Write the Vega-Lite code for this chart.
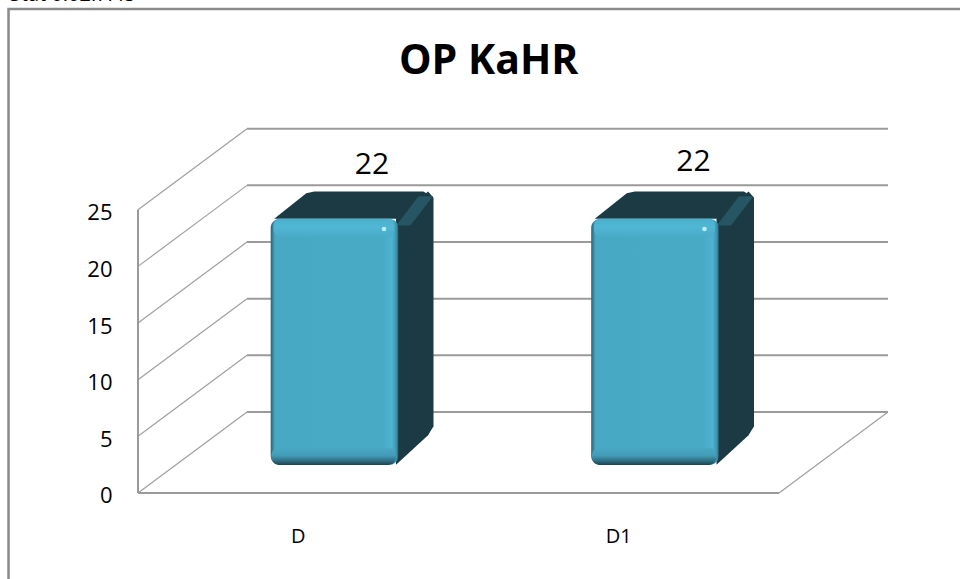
{
"$schema":"https://vega.github.io/schema/vega-lite/v6.json",
"width":960,"height":579,"autosize":"none","padding":0,"background":"#ffffff",
"datasets":{
"diag":[
{"s":"f0","x":0,"y":0},{"s":"f0","x":0.34,"y":7.15},
{"s":"f5","x":0,"y":5},{"s":"f5","x":0.34,"y":12.15},
{"s":"f10","x":0,"y":10},{"s":"f10","x":0.34,"y":17.15},
{"s":"f15","x":0,"y":15},{"s":"f15","x":0.34,"y":22.15},
{"s":"f20","x":0,"y":20},{"s":"f20","x":0.34,"y":27.15},
{"s":"f25","x":0,"y":25},{"s":"f25","x":0.34,"y":32.15},
{"s":"floorR","x":2,"y":0},{"s":"floorR","x":2.34,"y":7.15}
],
"horiz":[
{"s":"b0","x":0.34,"y":7.15},{"s":"b0","x":2.34,"y":7.15},
{"s":"b5","x":0.34,"y":12.15},{"s":"b5","x":2.34,"y":12.15},
{"s":"b10","x":0.34,"y":17.15},{"s":"b10","x":2.34,"y":17.15},
{"s":"b15","x":0.34,"y":22.15},{"s":"b15","x":2.34,"y":22.15},
{"s":"b20","x":0.34,"y":27.15},{"s":"b20","x":2.34,"y":27.15},
{"s":"b25","x":0.34,"y":32.15},{"s":"b25","x":2.34,"y":32.15},
{"s":"floor","x":0,"y":0},{"s":"floor","x":2,"y":0},
{"s":"axis","x":0,"y":0},{"s":"axis","x":0,"y":25}
],
"frame":[
{"s":"a","x":-0.404,"y":-7.6},{"s":"a","x":-0.404,"y":42.72},{"s":"a","x":2.57,"y":42.72}
],
"tops":[
{"c":"D","y":24.2,"x":0.425,"x2":0.82},{"c":"D","y":26.45,"x":0.525,"x2":0.9},{"c":"D","y":26.6,"x":0.55,"x2":0.89},
{"c":"D1","y":24.2,"x":1.425,"x2":1.82},{"c":"D1","y":26.45,"x":1.525,"x2":1.9},{"c":"D1","y":26.6,"x":1.55,"x2":1.89}
],
"sides":[
{"c":"D","x":0.805,"y":2.5,"y2":24.2},{"c":"D","x":0.905,"y":5.1,"y2":26.6},{"c":"D","x":0.922,"y":5.9,"y2":26.05},
{"c":"D1","x":1.805,"y":2.5,"y2":24.2},{"c":"D1","x":1.905,"y":5.1,"y2":26.6},{"c":"D1","x":1.922,"y":5.9,"y2":26.05}
],
"stripes":[
{"c":"D","y":23.6,"x":0.806,"x2":0.85},{"c":"D","y":26.2,"x":0.875,"x2":0.92},
{"c":"D1","y":23.6,"x":1.806,"x2":1.85},{"c":"D1","y":26.2,"x":1.875,"x2":1.92}
],
"faces":[
{"c":"D","x":0.414,"x2":0.812,"y":2.47,"y2":24.2},
{"c":"D1","x":1.414,"x2":1.812,"y":2.47,"y2":24.2}
],
"lower":[
{"c":"D","x":0.416,"x2":0.805,"y":2.47,"y2":4.0},
{"c":"D1","x":1.416,"x2":1.805,"y":2.47,"y2":4.0}
],
"upper":[
{"c":"D","x":0.423,"x2":0.8,"y":22.6,"y2":24.15},
{"c":"D1","x":1.423,"x2":1.8,"y":22.6,"y2":24.15}
],
"spots":[{"x":0.7675,"y":23.3},{"x":1.7675,"y":23.3}],
"bars":[{"category":"D","pos":0.5,"value":22,"labelY":27.6,"labelX":0.73,"catY":-3.88},
{"category":"D1","pos":1.5,"value":22,"labelY":27.85,"labelX":1.733,"catY":-3.88}],
"title":[{"t":"OP KaHR","x":1.094,"y":38.03}],
"stamp":[{"t":"Stat 0:02:7.45","x":-0.4,"y":43.95}]
},
"layer":[
{"data":{"name":"frame"},"mark":{"type":"line","color":"#8a8a8a","strokeWidth":2.5},
 "encoding":{"x":{"field":"x","type":"quantitative","scale":{"domain":[-0.4306,2.5647],"nice":false,"zero":false},"axis":null},
 "y":{"field":"y","type":"quantitative","scale":{"domain":[-7.59,43.51],"nice":false,"zero":false},
 "axis":{"values":[0,5,10,15,20,25],"offset":-138,"domain":false,"ticks":false,"grid":false,"title":null,"labelPadding":26,"labelOffset":3,"labelFont":"Open Sans","labelFontSize":22,"labelColor":"#000000","labelFontWeight":"normal"}},"detail":{"field":"s"},"order":{"field":"y","sort":"ascending"}}},
{"data":{"name":"diag"},"mark":{"type":"line","color":"#a0a0a0","strokeWidth":1.2},
 "encoding":{"x":{"field":"x","type":"quantitative"},"y":{"field":"y","type":"quantitative"},"detail":{"field":"s"}}},
{"data":{"name":"horiz"},"mark":{"type":"line","color":"#9a9a9a","strokeWidth":2},
 "encoding":{"x":{"field":"x","type":"quantitative"},"y":{"field":"y","type":"quantitative"},"detail":{"field":"s"}}},
{"data":{"name":"tops"},"mark":{"type":"area","orient":"horizontal","color":"#1b3a44"},
 "encoding":{"y":{"field":"y","type":"quantitative"},"x":{"field":"x","type":"quantitative"},"x2":{"field":"x2"},"detail":{"field":"c"}}},
{"data":{"name":"sides"},"mark":{"type":"area","orient":"vertical","color":"#1b3a44"},
 "encoding":{"x":{"field":"x","type":"quantitative"},"y":{"field":"y","type":"quantitative"},"y2":{"field":"y2"},"detail":{"field":"c"}}},
{"data":{"name":"stripes"},"mark":{"type":"area","orient":"horizontal","color":"#265664"},
 "encoding":{"y":{"field":"y","type":"quantitative"},"x":{"field":"x","type":"quantitative"},"x2":{"field":"x2"},"detail":{"field":"c"}}},
{"data":{"name":"faces"},"mark":{"type":"rect","cornerRadius":9,"color":{"gradient":"linear","x1":0,"y1":0,"x2":1,"y2":0,"stops":[{"offset":0,"color":"#2c6275"},{"offset":0.035,"color":"#48a9c5"},{"offset":0.88,"color":"#49aac6"},{"offset":0.95,"color":"#4eb4d1"},{"offset":0.985,"color":"#3f93ad"},{"offset":1,"color":"#2c6275"}]}},
 "encoding":{"x":{"field":"x","type":"quantitative"},"x2":{"field":"x2"},"y":{"field":"y","type":"quantitative"},"y2":{"field":"y2"}}},
{"data":{"name":"lower"},"mark":{"type":"rect","cornerRadius":8,"color":{"gradient":"linear","x1":0,"y1":0,"x2":0,"y2":1,"stops":[{"offset":0,"color":"#48a9c5","opacity":0},{"offset":0.45,"color":"#439cb7"},{"offset":0.75,"color":"#2f7084"},{"offset":1,"color":"#1b4250"}]}},
 "encoding":{"x":{"field":"x","type":"quantitative"},"x2":{"field":"x2"},"y":{"field":"y","type":"quantitative"},"y2":{"field":"y2"}}},
{"data":{"name":"upper"},"mark":{"type":"rect","cornerRadius":7,"color":{"gradient":"linear","x1":0,"y1":0,"x2":0,"y2":1,"stops":[{"offset":0,"color":"#4bb0cc"},{"offset":0.4,"color":"#4fb7d4"},{"offset":0.75,"color":"#4cb0cd"},{"offset":1,"color":"#49aac6"}]}},
 "encoding":{"x":{"field":"x","type":"quantitative"},"x2":{"field":"x2"},"y":{"field":"y","type":"quantitative"},"y2":{"field":"y2"}}},
{"data":{"name":"spots"},"mark":{"type":"point","filled":true,"shape":"circle","size":22,"opacity":1,"color":"#b5eefc"},
 "encoding":{"x":{"field":"x","type":"quantitative"},"y":{"field":"y","type":"quantitative"}}},
{"data":{"name":"bars"},"mark":{"type":"text","font":"Open Sans","fontSize":30,"color":"#000000","baseline":"bottom","align":"center"},
 "encoding":{"x":{"field":"labelX","type":"quantitative"},"y":{"field":"labelY","type":"quantitative"},"text":{"field":"value","type":"quantitative"}}},
{"data":{"name":"bars"},"mark":{"type":"text","font":"Open Sans","fontSize":20,"color":"#000000","baseline":"middle","align":"center"},
 "encoding":{"x":{"field":"pos","type":"quantitative"},"y":{"field":"catY","type":"quantitative"},"text":{"field":"category","type":"nominal"}}},
{"data":{"name":"title"},"mark":{"type":"text","font":"Open Sans","fontWeight":"bold","fontSize":41,"color":"#000000","baseline":"middle","align":"center"},
 "encoding":{"x":{"field":"x","type":"quantitative"},"y":{"field":"y","type":"quantitative"},"text":{"field":"t","type":"nominal"}}},
{"data":{"name":"stamp"},"mark":{"type":"text","font":"Open Sans","fontSize":20,"color":"#000000","baseline":"middle","align":"left"},
 "encoding":{"x":{"field":"x","type":"quantitative"},"y":{"field":"y","type":"quantitative"},"text":{"field":"t","type":"nominal"}}}
],
"config":{"view":{"stroke":null}}
}
